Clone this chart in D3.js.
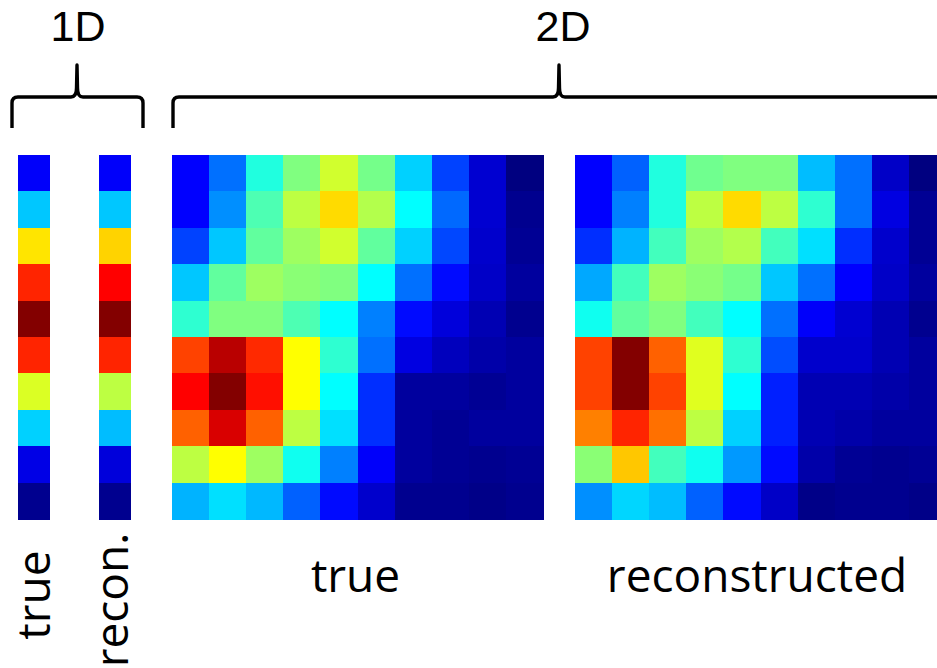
<!DOCTYPE html>
<html>
<head>
<meta charset="utf-8">
<script src="https://cdn.jsdelivr.net/npm/d3@7"></script>
<style>
html,body{margin:0;padding:0;background:#fff;overflow:hidden;}
svg{display:block;}
text{font-family:"Open Sans",sans-serif;fill:#000;}
</style>
</head>
<body>
<svg id="chart" width="937" height="668"></svg>
<script>
// ---- data (values on a 0..1 scale, drawn with a jet colormap) ----
const rowIndex = [0,1,2,3,4,5,6,7,8,9];
const colIndex = [0,1,2,3,4,5,6,7,8,9];

const trueVector1D  = [0.12,0.32,0.65,0.84,0.99,0.84,0.59,0.33,0.10,0.015];
const reconVector1D = [0.12,0.32,0.668,0.875,0.99,0.84,0.56,0.31,0.09,0.015];

const trueMatrix2D = [
  [0.125,0.235,0.406,0.50,0.58,0.49,0.33,0.19,0.08,0.00],
  [0.125,0.265,0.45,0.56,0.66,0.55,0.375,0.228,0.08,0.015],
  [0.19,0.32,0.47,0.53,0.58,0.47,0.33,0.195,0.075,0.02],
  [0.32,0.47,0.53,0.51,0.50,0.375,0.235,0.135,0.07,0.03],
  [0.42,0.50,0.50,0.45,0.375,0.25,0.135,0.09,0.05,0.015],
  [0.81,0.94,0.835,0.625,0.42,0.235,0.095,0.06,0.04,0.03],
  [0.875,0.99,0.86,0.625,0.375,0.17,0.03,0.03,0.02,0.03],
  [0.78,0.91,0.78,0.56,0.345,0.17,0.03,0.02,0.03,0.03],
  [0.56,0.625,0.53,0.39,0.25,0.12,0.03,0.02,0.015,0.02],
  [0.30,0.345,0.305,0.22,0.135,0.075,0.015,0.015,0.008,0.015]
];

const reconMatrix2D = [
  [0.125,0.22,0.406,0.485,0.50,0.50,0.31,0.235,0.07,0.00],
  [0.125,0.25,0.406,0.56,0.66,0.56,0.42,0.235,0.095,0.02],
  [0.17,0.30,0.44,0.53,0.55,0.44,0.345,0.17,0.075,0.02],
  [0.29,0.44,0.53,0.51,0.49,0.32,0.235,0.125,0.07,0.03],
  [0.39,0.47,0.50,0.44,0.375,0.235,0.12,0.08,0.05,0.015],
  [0.81,0.99,0.78,0.595,0.42,0.20,0.075,0.075,0.05,0.03],
  [0.81,0.99,0.81,0.595,0.375,0.155,0.05,0.05,0.04,0.03],
  [0.75,0.84,0.765,0.56,0.33,0.155,0.05,0.04,0.03,0.03],
  [0.51,0.68,0.44,0.39,0.275,0.135,0.04,0.02,0.015,0.02],
  [0.265,0.335,0.31,0.22,0.135,0.07,0.008,0.015,0.015,0.008]
];

const groupLabels = ["1D","2D"];
const vectorLabels = ["true","recon."];
const matrixLabels = ["true","reconstructed"];

// ---- jet colormap ----
const jetStops = [0,0.125,0.375,0.625,0.875,1];
const jetColors = ["#000080","#0000ff","#00ffff","#ffff00","#ff0000","#780000"];
const jet = d3.scaleLinear().domain(jetStops).range(jetColors).interpolate(d3.interpolateRgb).clamp(true);

const svg = d3.select("#chart");

// ---- layout ----
const yRows = d3.scaleBand().domain(rowIndex).range([155,519]).paddingInner(0).paddingOuter(0);
const xVecTrue  = d3.scaleBand().domain([0]).range([18,50]);
const xVecRecon = d3.scaleBand().domain([0]).range([99,131]);
const xMatTrue  = d3.scaleBand().domain(colIndex).range([172,543]);
const xMatRecon = d3.scaleBand().domain(colIndex).range([575,946]);

function drawVector(vals, xs){
  svg.append("g").selectAll("rect").data(vals).join("rect")
    .attr("x", xs(0))
    .attr("y", (d,i)=>yRows(i))
    .attr("width", xs.bandwidth())
    .attr("height", yRows.bandwidth()+0.5)
    .attr("fill", d=>jet(d))
    .attr("shape-rendering","crispEdges");
}
function drawMatrix(mat, xs){
  const cells = [];
  mat.forEach((row,r)=>row.forEach((v,c)=>cells.push({r,c,v})));
  svg.append("g").selectAll("rect").data(cells).join("rect")
    .attr("x", d=>xs(d.c))
    .attr("y", d=>yRows(d.r))
    .attr("width", xs.bandwidth()+0.5)
    .attr("height", yRows.bandwidth()+0.5)
    .attr("fill", d=>jet(d.v))
    .attr("shape-rendering","crispEdges");
}
drawVector(trueVector1D, xVecTrue);
drawVector(reconVector1D, xVecRecon);
drawMatrix(trueMatrix2D, xMatTrue);
drawMatrix(reconMatrix2D, xMatRecon);

// ---- braces ----
function brace(x0, x1, peak, yBar, yEnd, yTop, rightOpen){
  const p = d3.path();
  const r = 6;
  p.moveTo(x0, yEnd);
  p.lineTo(x0, yBar + r);
  p.quadraticCurveTo(x0, yBar, x0 + r, yBar);
  p.lineTo(peak - 6, yBar);
  p.quadraticCurveTo(peak - 0.5, yBar, peak - 0.5, yBar - 9);
  p.lineTo(peak, yTop);
  p.lineTo(peak + 0.5, yBar - 9);
  p.quadraticCurveTo(peak + 0.5, yBar, peak + 6, yBar);
  if (rightOpen){
    p.lineTo(x1, yBar);
  } else {
    p.lineTo(x1 - r, yBar);
    p.quadraticCurveTo(x1, yBar, x1, yBar + r);
    p.lineTo(x1, yEnd);
  }
  svg.append("path").attr("d", p.toString())
    .attr("fill","none").attr("stroke","#000").attr("stroke-width",3.4)
    .attr("stroke-linejoin","round");
}
brace(12, 143, 77, 97, 128, 65, false);
brace(173, 960, 559, 97, 128, 65, true);

// ---- text ----
svg.append("text").attr("x", 78).attr("y", 41).attr("text-anchor","middle")
  .style("font-family","'Liberation Sans',Arial,sans-serif")
  .style("font-size","43px").text(groupLabels[0]);
svg.append("text").attr("x", 563).attr("y", 41).attr("text-anchor","middle")
  .style("font-family","'Liberation Sans',Arial,sans-serif")
  .style("font-size","43px").text(groupLabels[1]);

svg.append("text").attr("x", (xMatTrue.range()[0]+xMatTrue.range()[1])/2 - 2).attr("y", 592)
  .attr("text-anchor","middle").style("font-size","46px").text(matrixLabels[0]);
svg.append("text").attr("x", 757).attr("y", 592)
  .attr("text-anchor","middle").style("font-size","46px").text(matrixLabels[1]);

svg.append("text").attr("transform","translate(50,595) rotate(-90)")
  .attr("text-anchor","middle").style("font-size","46px").text(vectorLabels[0]);
svg.append("text").attr("transform","translate(128,600) rotate(-90)")
  .attr("text-anchor","middle").style("font-size","46px").text(vectorLabels[1]);
</script>
</body>
</html>
